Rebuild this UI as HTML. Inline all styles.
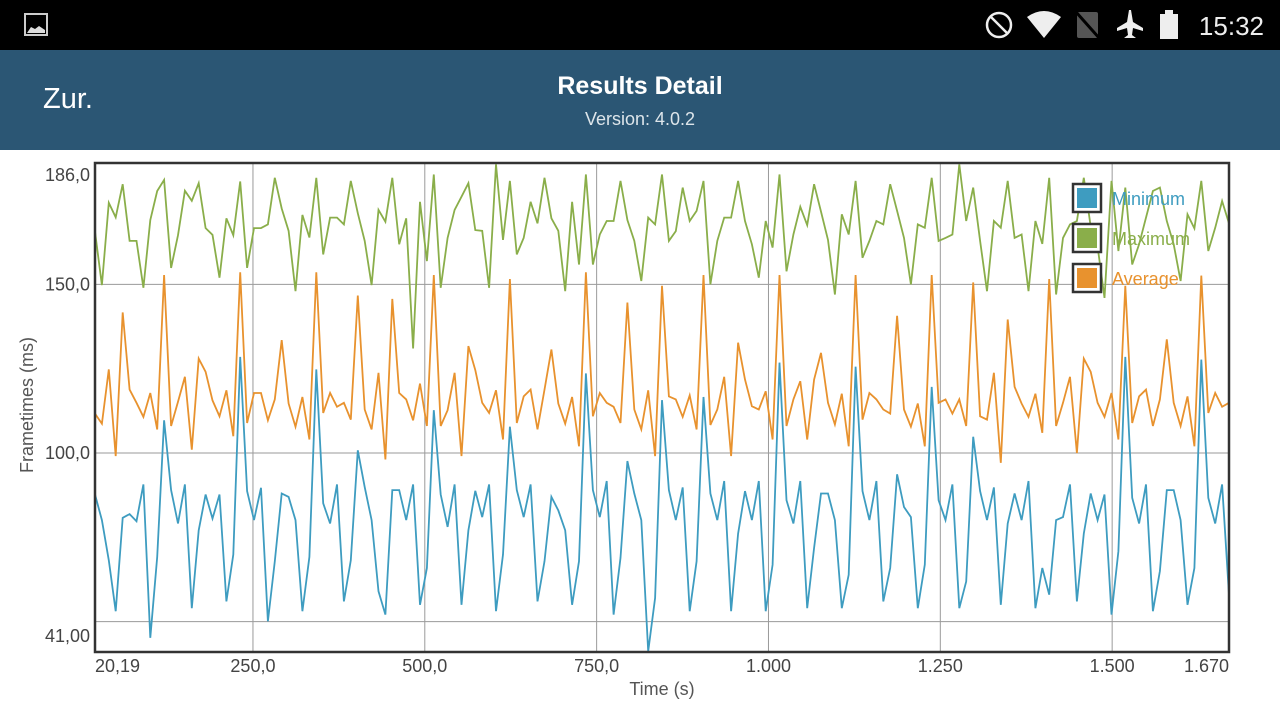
<!DOCTYPE html>
<html><head><meta charset="utf-8"><style>
body{margin:0;width:1280px;height:720px;overflow:hidden;background:#fff;font-family:"Liberation Sans",sans-serif}
#status{position:absolute;left:0;top:0;width:1280px;height:50px;background:#000}
#header{position:absolute;left:0;top:50px;width:1280px;height:100px;background:#2b5674}
</style></head><body>
<div id="status">
<svg width="1280" height="50">
<rect x="25" y="14" width="22" height="21" fill="none" stroke="#ccc" stroke-width="2"/>
<path d="M27 33 L31 27 L35 29 L39 26 L45 30 L45 33 Z" fill="#ddd"/>
<circle cx="999" cy="25" r="12" fill="none" stroke="#eee" stroke-width="2.5"/>
<line x1="991" y1="17" x2="1007" y2="33" stroke="#eee" stroke-width="2.5"/>
<path d="M1027 17 Q1044 5 1061 17 L1044 38 Z" fill="#eee"/>
<rect x="1077" y="12" width="21" height="26" rx="2" fill="#555"/>
<line x1="1076" y1="12" x2="1100" y2="39" stroke="#000" stroke-width="3"/>
<path d="M1129 10 L1131 10 L1133 22 L1143 28 L1143 31 L1133 28 L1132 35 L1136 38 L1124 38 L1128 35 L1127 28 L1117 31 L1117 28 L1127 22 Z" fill="#eee"/>
<rect x="1160" y="14" width="18" height="25" fill="#eee"/><rect x="1165" y="10" width="8" height="5" fill="#eee"/>
<text x="1264" y="35" text-anchor="end" font-size="26" fill="#eee" font-family="Liberation Sans, sans-serif">15:32</text>
</svg></div>
<div id="header">
<div style="position:absolute;left:43px;top:33px;color:#fff;font-size:29px">Zur.</div>
<div style="position:absolute;left:0;width:1280px;top:22px;text-align:center;color:#fff;font-size:25px;font-weight:bold">Results Detail</div>
<div style="position:absolute;left:0;width:1280px;top:59px;text-align:center;color:#dde5ea;font-size:18px">Version: 4.0.2</div>
</div>
<svg id="chart" width="1280" height="570" style="position:absolute;left:0;top:150px"></svg>
<script>
const minimum=[87.7,80.1,68.2,53.1,80.8,81.9,79.8,90.7,45.2,69.2,109.7,89.0,79.1,90.7,54.0,77.1,87.7,80.6,87.7,56.0,69.9,128.5,88.7,80.1,89.7,50.1,67.9,88.0,87.0,80.1,53.1,69.2,124.8,85.1,79.1,90.7,56.0,68.2,100.8,89.9,80.1,59.0,52.1,89.0,89.0,80.1,90.7,55.0,65.9,112.7,87.7,78.1,90.7,55.0,77.1,88.8,81.0,90.7,53.1,69.9,107.8,89.0,81.0,90.7,56.0,67.9,87.0,83.0,77.1,55.0,67.9,123.6,89.0,81.0,91.7,52.1,68.9,97.6,88.0,80.1,41.2,57.0,115.7,89.0,80.1,89.8,53.1,67.9,116.6,88.0,80.1,91.7,53.1,76.1,88.7,80.1,91.7,53.1,66.9,126.8,86.0,79.1,91.7,54.0,71.9,88.0,88.0,80.1,54.0,63.9,125.6,88.7,80.1,91.7,56.0,65.9,93.7,84.0,81.0,54.0,66.9,119.6,86.0,80.1,90.7,54.0,61.9,104.8,88.7,80.1,89.8,55.0,79.1,88.0,80.1,91.7,54.0,65.9,58.0,80.1,81.0,90.7,56.0,76.1,88.0,80.1,87.7,52.1,70.9,128.5,86.7,79.1,90.7,53.1,65.0,89.0,89.0,80.1,55.0,65.9,127.7,86.7,79.1,90.7,58.0];
const maximum=[165.6,149.8,174.2,169.9,179.7,162.9,162.9,149.0,169.1,177.7,181.0,154.9,164.6,177.8,174.8,180.0,166.7,164.7,152.0,169.6,164.6,180.5,154.9,166.7,166.7,167.8,181.6,172.5,165.9,148.0,170.6,163.9,181.6,158.9,169.8,169.8,167.8,180.7,171.1,162.9,149.8,172.1,168.6,181.6,161.9,169.6,131.0,174.5,156.9,182.6,149.0,163.8,172.1,176.0,180.0,166.1,165.9,149.0,185.6,163.2,180.7,158.9,163.8,174.5,168.1,181.6,169.6,165.9,148.0,174.5,155.9,182.6,155.9,164.8,168.8,168.8,180.7,169.1,162.9,151.0,169.8,167.8,182.6,162.9,165.8,178.7,168.8,171.8,180.7,150.0,162.9,169.8,169.8,180.7,168.8,161.9,152.0,168.8,160.9,182.6,153.9,164.8,173.0,167.6,179.7,171.6,163.2,147.0,170.8,164.8,180.7,157.9,162.9,168.8,167.8,179.7,171.8,163.8,150.0,167.8,166.8,181.6,162.9,163.8,164.8,185.6,168.8,178.7,162.9,148.0,168.8,166.8,180.7,163.8,164.8,148.0,168.8,162.0,181.6,147.0,163.8,167.8,168.8,181.6,167.1,161.2,146.0,180.7,159.9,178.7,155.9,161.9,169.8,177.7,178.7,168.8,161.9,151.0,170.8,166.6,180.7,159.9,166.8,174.7,168.1];
const average=[111.7,108.7,124.8,99.1,141.7,118.8,114.9,110.7,117.8,107.0,152.8,108.0,115.2,122.6,101.0,128.0,124.1,115.6,110.9,118.6,105.0,153.6,108.9,117.8,117.8,109.7,115.9,133.5,114.7,107.8,116.6,104.0,153.6,111.9,117.8,113.7,114.9,109.9,146.7,112.9,107.0,123.8,98.1,145.7,117.8,115.9,109.7,120.6,108.0,152.8,108.0,112.7,123.8,99.1,131.7,124.6,114.9,111.9,118.6,104.0,151.6,108.9,116.8,118.8,107.0,118.8,130.7,114.7,108.7,116.6,102.0,153.6,110.9,117.8,114.9,113.7,108.9,144.6,112.9,107.0,118.6,99.1,149.6,116.8,115.9,110.7,117.1,107.0,152.8,108.3,112.9,122.6,99.1,132.7,121.8,113.9,112.9,118.3,104.0,152.8,108.0,115.9,121.3,104.0,121.8,129.7,114.9,108.5,117.6,102.0,152.8,109.9,117.8,115.9,112.9,111.7,140.7,112.9,107.8,114.7,102.0,152.8,114.9,115.9,111.7,115.9,108.0,150.6,110.9,109.9,123.8,97.1,139.6,119.6,114.7,110.7,117.6,106.0,151.6,108.0,114.9,122.6,100.0,128.0,124.1,114.9,110.7,117.8,104.0,149.6,108.9,116.8,118.8,108.0,115.9,133.7,114.9,108.0,116.8,102.0,152.6,111.9,117.8,113.7,114.9];
const yTicks=[186,150,100,41];
const yTickLabels=["186,0","150,0","100,0","41,00"];
const yGrid=[150,100,50];
const xTicks=[20.19,250,500,750,1000,1250,1500,1670];
const xTickLabels=["20,19","250,0","500,0","750,0","1.000","1.250","1.500","1.670"];
const xGrid=[250,500,750,1000,1250,1500];
const xMin=20.19,xMax=1670,yMin=41,yMax=186;
const L=95,R=1229,T=13,B=502;
const svg=document.getElementById('chart');
const NS='http://www.w3.org/2000/svg';
function xs(v){return L+(v-xMin)/(xMax-xMin)*(R-L);}
function ys(v){return B-(v-yMin)/(yMax-yMin)*(B-T);}
function xi(i,n){return xs(xMin+i*(xMax-xMin)/(n-1));}
function mk(tag,attrs){const e=document.createElementNS(NS,tag);for(const k in attrs)e.setAttribute(k,attrs[k]);svg.appendChild(e);return e;}
yGrid.forEach(v=>{const e=mk('line',{x1:L,x2:R,y1:ys(v),y2:ys(v),stroke:'#9a9a9a','stroke-width':1});

});
xGrid.forEach(v=>{const e=mk('line',{x1:xs(v),x2:xs(v),y1:T,y2:B,stroke:'#9a9a9a','stroke-width':1});

});
const series=[[maximum,'#8aae4a','series-maximum'],[average,'#e8922e','series-average'],[minimum,'#3e9cc0','series-minimum']];
series.forEach(s=>{const d=s[0].map((v,i)=>(i?'L':'M')+xi(i,s[0].length).toFixed(1)+' '+ys(v).toFixed(1)).join(' ');
const p=mk('path',{d:d,fill:'none',stroke:s[1],'stroke-width':1.8,'stroke-linejoin':'miter'});

});
const fr=mk('rect',{x:L,y:T,width:R-L,height:B-T,fill:'none',stroke:'#333','stroke-width':2.5});


const yOff=[12,0,0,-16];
yTicks.forEach((v,i)=>{const t=mk('text',{x:90,y:ys(v)+6+yOff[i],'text-anchor':'end','font-size':18,fill:'#444'});t.textContent=yTickLabels[i];

});
xTicks.forEach((v,i)=>{const anc=i==0?'start':(i==xTicks.length-1?'end':'middle');const t=mk('text',{x:xs(v),y:522,'text-anchor':anc,'font-size':18,fill:'#444'});t.textContent=xTickLabels[i];

});
const xt=mk('text',{x:662,y:545,'text-anchor':'middle','font-size':18,fill:'#555'});xt.textContent='Time (s)';


const yt=mk('text',{x:0,y:0,'text-anchor':'middle','font-size':18,fill:'#555',transform:'translate(33,255) rotate(-90)'});yt.textContent='Frametimes (ms)';


const legendNames=['Minimum','Maximum','Average'];
const legendColors=['#3e9cc0','#8aae4a','#e8922e'];
legendNames.forEach((n,i)=>{const y0=34+i*40;
const b=mk('rect',{x:1073,y:y0,width:28,height:28,fill:'#fff',stroke:'#333','stroke-width':2.5});


const c=mk('rect',{x:1077,y:y0+4,width:20,height:20,fill:legendColors[i]});


const t=mk('text',{x:1112,y:y0+21,'font-size':18,fill:legendColors[i]});t.textContent=n;

});
</script>
</body></html>
